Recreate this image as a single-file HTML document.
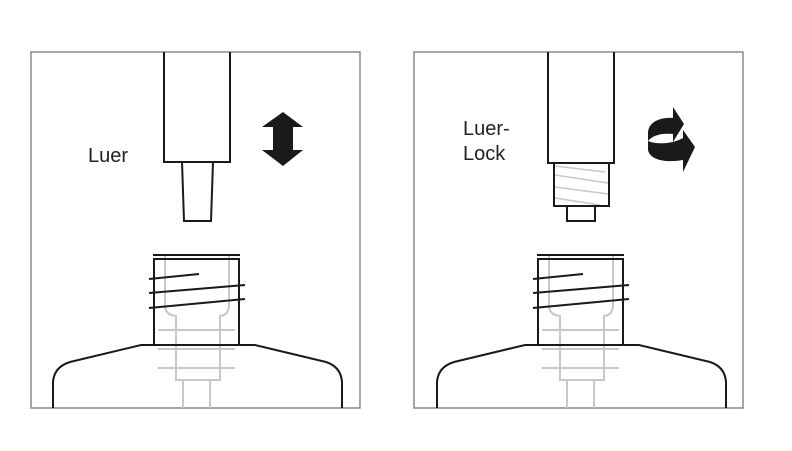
<!DOCTYPE html>
<html><head><meta charset="utf-8"><style>
html,body{margin:0;padding:0;background:#fff;}
svg{display:block;}
text{font-family:"Liberation Sans",sans-serif;fill:#222;}
</style></head><body>
<svg width="792" height="451" viewBox="0 0 792 451" xmlns="http://www.w3.org/2000/svg">
<defs>
<g id="conn">
  <!-- gray inner -->
  <g stroke="#c8c8c8" stroke-width="2" fill="none">
    <path d="M165 255 L165 305 Q165 315 176 316 L176 380 L220 380 L220 316 Q229 315 229 305 L229 255"/>
    <line x1="158" y1="330" x2="235" y2="330"/>
    <line x1="158" y1="349" x2="235" y2="349"/>
    <line x1="158" y1="368" x2="235" y2="368"/>
    <line x1="183" y1="380" x2="183" y2="408"/>
    <line x1="210" y1="380" x2="210" y2="408"/>
  </g>
  <g stroke="#1a1a1a" stroke-width="2" fill="none">
    <line x1="153" y1="255" x2="240" y2="255"/>
    <path d="M154 345 L154 259 L239 259 L239 345"/>
    <line x1="149" y1="279" x2="199" y2="274"/>
    <line x1="149" y1="293" x2="245" y2="285"/>
    <line x1="149" y1="308" x2="245" y2="299"/>
    <path d="M53 408 L53 382 Q54 367 70 362 L141 345 L255 345 L326 362 Q341 367 342 382 L342 408"/>
  </g>
</g>
</defs>

<!-- Left panel -->
<rect x="31" y="52" width="329" height="356" fill="none" stroke="#888" stroke-width="1.5"/>
<use href="#conn"/>
<g stroke="#1a1a1a" stroke-width="2" fill="none">
  <path d="M164 52 L164 162 L230 162 L230 52"/>
  <path d="M182 162 L184 221 L211 221 L213 162"/>
</g>
<path d="M283 112 L303 127 L293 127 L293 150 L303 150 L283 166 L262 150 L273 150 L273 127 L262 127 Z" fill="#1a1a1a"/>
<text x="88" y="162" font-size="20">Luer</text>

<!-- Right panel -->
<rect x="414" y="52" width="329" height="356" fill="none" stroke="#888" stroke-width="1.5"/>
<use href="#conn" transform="translate(384,0)"/>
<g stroke="#c8c8c8" stroke-width="1.5">
  <line x1="555" y1="166" x2="605" y2="172"/>
  <line x1="555" y1="175" x2="608" y2="183"/>
  <line x1="555" y1="187" x2="608" y2="194"/>
  <line x1="555" y1="198" x2="600" y2="205"/>
</g>
<g stroke="#1a1a1a" stroke-width="2" fill="none">
  <path d="M548 52 L548 163 L614 163 L614 52"/>
  <rect x="554" y="163" width="55" height="43"/>
  <rect x="567" y="206" width="28" height="15"/>
</g>
<text x="463" y="135" font-size="20">Luer-</text>
<text x="463" y="160" font-size="20">Lock</text>
<path d="M673 118 C660 117 649 122 648 132 L648 141 C653 135 662 133 673 134 L673 142 L684 124 L673 107 Z" fill="#1a1a1a"/>
<path d="M648 141 L648 150 C650 160 665 163 683 160 L683 172 L695 147 L683 130 L683 138 C670 145 655 144 648 141 Z" fill="#1a1a1a"/>
</svg>
</body></html>
